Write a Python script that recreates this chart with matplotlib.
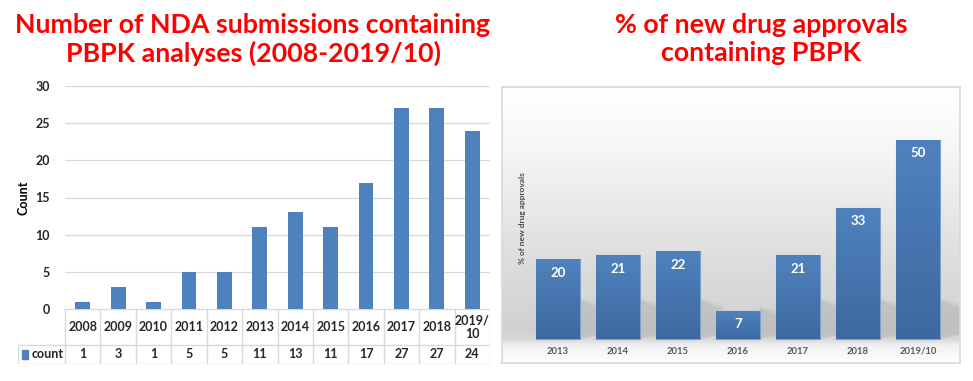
import numpy as np
import matplotlib
matplotlib.use('Agg')
import matplotlib.pyplot as plt
from matplotlib.patches import Polygon

plt.rcParams['font.family'] = ['Lato', 'DejaVu Sans']

# 左图数据
nda_years = ['2008', '2009', '2010', '2011', '2012', '2013', '2014', '2015',
             '2016', '2017', '2018', '2019/\n10']
nda_counts = [1, 3, 1, 5, 5, 11, 13, 11, 17, 27, 27, 24]
nda_yticks = [0, 5, 10, 15, 20, 25, 30]

# 右图数据
pct_years = ['2013', '2014', '2015', '2016', '2017', '2018', '2019/10']
pct_values = [20, 21, 22, 7, 21, 33, 50]

W, H = 973, 381
fig = plt.figure(figsize=(W / 100, H / 100), dpi=100)


def px_axes(x0, y0, x1, y1):
    # 以像素坐标(左上为原点)放置坐标轴
    return fig.add_axes([x0 / W, 1 - y1 / H, (x1 - x0) / W, (y1 - y0) / H])


red = '#ff0000'
fig.text(253 / W, 1 - 25 / H, 'Number of NDA submissions containing', color=red,
         fontsize=19.3, fontweight='bold', ha='center', va='center')
fig.text(253 / W, 1 - 53 / H, 'PBPK analyses (2008-2019/10)', color=red,
         fontsize=19.3, fontweight='bold', ha='center', va='center')
fig.text(761 / W, 1 - 25 / H, '% of new drug approvals', color=red,
         fontsize=19.3, fontweight='bold', ha='center', va='center')
fig.text(761 / W, 1 - 53 / H, 'containing PBPK', color=red,
         fontsize=19.3, fontweight='bold', ha='center', va='center')

# ---------------- 左图：柱状图 + 数据表 ----------------
ax1 = px_axes(65, 86, 490, 309)
x1 = np.arange(len(nda_counts))
ax1.bar(x1, nda_counts, width=0.42, color='#4f81bd', zorder=3)
ax1.set_xlim(-0.5, len(nda_counts) - 0.5)
ax1.set_ylim(0, 30)
ax1.set_yticks(nda_yticks)
ax1.set_yticklabels([str(v) for v in nda_yticks], fontsize=9, fontweight='bold',
                    color='#262626')
ax1.tick_params(axis='y', length=0, pad=11)
ax1.set_xticks([])
ax1.grid(axis='y', color='#d9d9d9', linewidth=0.9, zorder=0)
for s in ax1.spines.values():
    s.set_visible(False)
ax1.set_ylabel('Count', fontsize=9, fontweight='bold', labelpad=4)

# 数据表
unit = 425 / len(nda_counts)
left_ext = -0.5 - (65 - 18) / unit
tb = px_axes(18, 309, 490, 364)
tb.set_xlim(left_ext, len(nda_counts) - 0.5)
tb.set_ylim(0, 1)
tb.axis('off')
mid = (364 - 345) / 55
lc = '#d9d9d9'
tb.plot([-0.5, len(nda_counts) - 0.5], [1, 1], color=lc, lw=1)
tb.plot([left_ext, len(nda_counts) - 0.5], [mid, mid], color=lc, lw=1)
tb.plot([left_ext, len(nda_counts) - 0.5], [0, 0], color=lc, lw=1)
tb.plot([left_ext, left_ext], [0, mid], color=lc, lw=1)
for i in range(len(nda_counts) + 1):
    tb.plot([i - 0.5, i - 0.5], [0, 1], color=lc, lw=1)
for i, (yr, c) in enumerate(zip(nda_years, nda_counts)):
    tb.text(i, (1 + mid) / 2, yr, ha='center', va='center', fontsize=9,
            fontweight='bold', color='#262626', linespacing=1.1)
    tb.text(i, mid / 2, str(c), ha='center', va='center', fontsize=9,
            fontweight='bold', color='#262626')
tb.add_patch(plt.Rectangle((left_ext + 0.12, mid / 2 - 0.09), 0.17, 0.18,
                           color='#4f81bd', transform=tb.transData))
tb.text(left_ext + 0.38, mid / 2, 'count', ha='left', va='center', fontsize=9,
        fontweight='bold', color='#262626')

# ---------------- 右图：带渐变背景的柱状图 ----------------
ppu = (339 - 140) / 50.0
ax2 = px_axes(502, 87, 960, 363)
ylo = -(363 - 339) / ppu
yhi = (339 - 87) / ppu
xlo = -(558 - 502) / 60.0
xhi = (960 - 558) / 60.0
ax2.set_xlim(xlo, xhi)
ax2.set_ylim(ylo, yhi)
ax2.set_xticks([])
ax2.set_yticks([])
for s in ax2.spines.values():
    s.set_color('#d9d9d9')
    s.set_linewidth(1.2)

# 背景渐变
stops = [0.0, 0.2, 0.6, 0.88, 0.913, 0.94, 1.0]
greys = [1.0, 0.97, 0.875, 0.82, 0.84, 0.95, 1.0]
t = np.linspace(0, 1, 300)
g = np.interp(t, stops, greys)
bg = np.dstack([g, g, g]).reshape(300, 1, 3)
ax2.imshow(bg, extent=(xlo, xhi, ylo, yhi), aspect='auto', origin='upper', zorder=0)

x2 = np.arange(len(pct_values))
bw = 0.72
# 阴影
for xi, v in zip(x2, pct_values):
    sh_h = min(v, 9)
    for k, a in enumerate([0.05, 0.05, 0.05]):
        dx = 0.12 + 0.08 * k
        poly = Polygon([(xi + bw / 2, 0), (xi + bw / 2 + dx + 0.25, 1.5),
                        (xi + bw / 2 + dx + 0.25, sh_h - 1.5 * k), (xi + bw / 2, sh_h + 1)],
                       closed=True, facecolor='#606060', edgecolor='none', alpha=a, zorder=1)
        ax2.add_patch(poly)

bars = ax2.bar(x2, pct_values, width=bw, color='#4a7ab8', edgecolor='#7da0cf',
               linewidth=0.8, zorder=3)
grad = np.linspace(0, 1, 100).reshape(100, 1)
top_c = np.array([0.31, 0.51, 0.74])
bot_c = np.array([0.24, 0.41, 0.63])
bar_img = (top_c[None, None, :] * (1 - grad[..., None]) + bot_c[None, None, :] * grad[..., None])
for b, v in zip(bars, pct_values):
    im = ax2.imshow(bar_img, extent=(b.get_x(), b.get_x() + b.get_width(), 0, v),
                    aspect='auto', origin='upper', zorder=4)
    im.set_clip_path(b)
    ax2.text(b.get_x() + b.get_width() / 2, v - 1.8, str(v), ha='center', va='top',
             color='white', fontsize=9.5, fontweight='bold', zorder=5)
ax2.set_xlim(xlo, xhi)
ax2.set_ylim(ylo, yhi)
for xi, lab in zip(x2, pct_years):
    ax2.text(xi, -(351 - 339) / ppu, lab, ha='center', va='center', fontsize=6.8,
             fontweight='bold', color='#595959', zorder=5)
ax2.text(xlo + (522 - 502) / 60.0, (339 - 218) / ppu, '% of new drug approvals',
         rotation=90, ha='center', va='center', fontsize=6, fontweight='bold',
         color='#4d4d4d', zorder=5)

fig.savefig('out.png', dpi=100)
